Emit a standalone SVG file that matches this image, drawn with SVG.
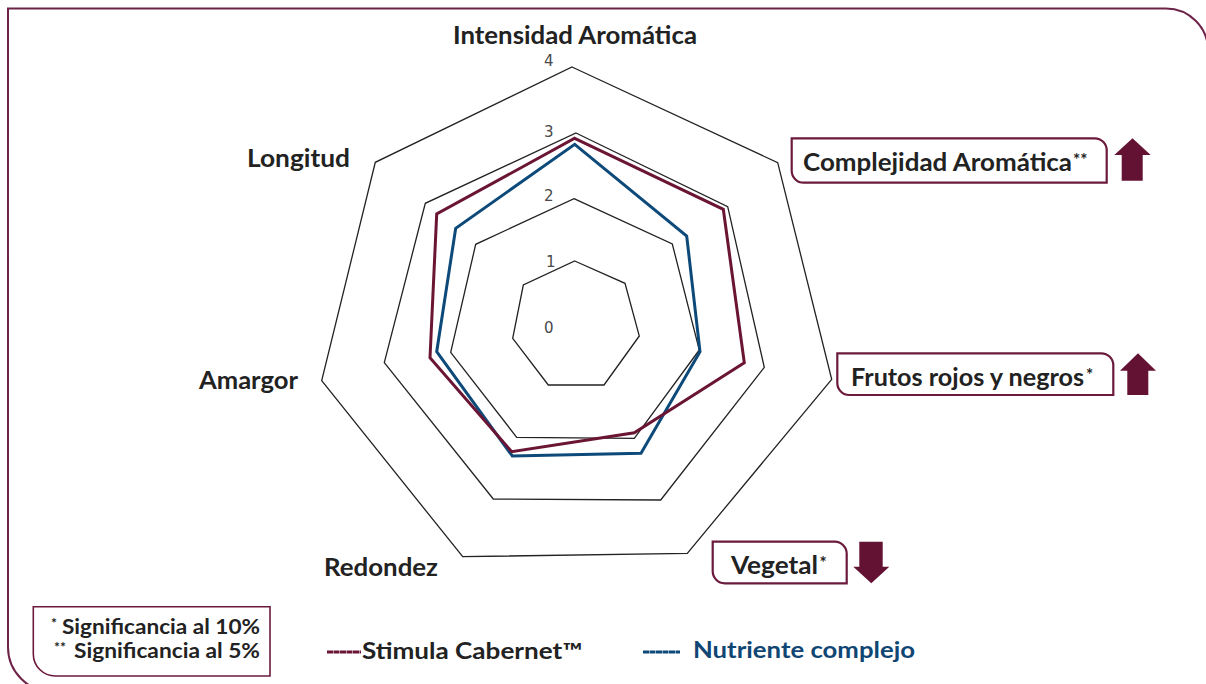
<svg xmlns="http://www.w3.org/2000/svg" width="1206" height="684" viewBox="0 0 1206 684">
<style>
.ring{fill:none;stroke:#222;stroke-width:1.3;stroke-linejoin:miter}
.lbl{font-family:Lato,"Open Sans",sans-serif;font-weight:700;font-size:25.5px;fill:#222}
.num{font-family:"DejaVu Sans",sans-serif;font-size:15px;fill:#4a4a4a}
.box{fill:#fff;stroke:#6b1a3c;stroke-width:2.2}
.arrow{fill:#641234}
.sup{font-family:Lato,"Open Sans",sans-serif;font-weight:700;font-size:17px;fill:#222}
.leg{font-family:Lato,"Open Sans",sans-serif;font-weight:700;font-size:21px;fill:#222}
</style>
<rect width="1206" height="684" fill="#fff"/>
<path id="frame" d="M53,692 A45,45 0 0 1 8,647 V8.5 H1166 A42,42 0 0 1 1208,50.5" fill="none" stroke="#6d2347" stroke-width="2"/>
<g id="grid">
<polygon class="ring" points="572,67 777.7,162.7 831.7,379.3 687.3,553.3 462.7,556.7 321.7,380.7 375.3,162.3"/>
<polygon class="ring" points="576,133 727.7,206.7 764.3,367.3 660.7,500 493.3,499 384.3,362.7 425.3,203.3"/>
<polygon class="ring" points="574,198.7 672.3,244 699.3,350 634.3,438.3 516.7,437.3 450.7,352.3 475.7,244.3"/>
<polygon class="ring" points="574.7,261 625,283.3 639.3,336 604,385 548.3,385 512.7,338.3 523.3,285"/>
<text class="num" x="544" y="66">4</text>
<text class="num" x="544" y="137">3</text>
<text class="num" x="544" y="201">2</text>
<text class="num" x="546" y="267">1</text>
<text class="num" x="544" y="333">0</text>
</g>
<g id="series">
<polygon id="nutriente" points="574.7,144.3 686.7,236 700,351.7 641,453.3 512.3,456 436.7,351.7 455.7,228.3" fill="none" stroke="#0d4a7a" stroke-width="3" stroke-linejoin="miter"/>
<polygon id="stimula" points="574.7,138.3 723.3,209.3 744.3,362.7 634.3,432.7 511.7,451.7 430,357.7 436.7,214" fill="none" stroke="#6b1535" stroke-width="3" stroke-linejoin="miter"/>
</g>
<g id="axis-labels">
<text class="lbl" x="453" y="44" textLength="244" lengthAdjust="spacingAndGlyphs">Intensidad Aromática</text>
<text class="lbl" x="247" y="167" textLength="103" lengthAdjust="spacingAndGlyphs">Longitud</text>
<text class="lbl" x="199" y="389" textLength="99" lengthAdjust="spacingAndGlyphs">Amargor</text>
<text class="lbl" x="324" y="576" textLength="114" lengthAdjust="spacingAndGlyphs">Redondez</text>
</g>
<g id="complejidad">
<path class="box" d="M791.7,138.3 H1094.7 A12,12 0 0 1 1106.7,150.3 V182.7 H803.7 A12,12 0 0 1 791.7,170.7 Z"/>
<text class="lbl" x="803" y="171" textLength="269" lengthAdjust="spacingAndGlyphs">Complejidad Aromática</text>
<text class="sup" x="1073" y="166">**</text>
<polygon class="arrow" points="1132.5,138.3 1150.7,155 1142.7,155 1142.7,180.7 1121.7,180.7 1121.7,155 1114.3,155"/>
</g>
<g id="frutos">
<path class="box" d="M837.3,353.3 H1101.3 A12,12 0 0 1 1113.3,365.3 V395 H849.3 A12,12 0 0 1 837.3,383 Z"/>
<text class="lbl" x="851" y="386" textLength="233" lengthAdjust="spacingAndGlyphs">Frutos rojos y negros</text>
<text class="sup" x="1086" y="381">*</text>
<polygon class="arrow" points="1138,353.3 1156,370.7 1148.3,370.7 1148.3,395 1127.3,395 1127.3,370.7 1120,370.7"/>
</g>
<g id="vegetal">
<path class="box" d="M712.7,541.7 H834.7 A12,12 0 0 1 846.7,553.7 V583.3 H724.7 A12,12 0 0 1 712.7,571.3 Z"/>
<text class="lbl" x="731" y="574" textLength="87" lengthAdjust="spacingAndGlyphs">Vegetal</text>
<text class="sup" x="819.5" y="569">*</text>
<polygon class="arrow" points="859.3,541.7 882.7,541.7 882.7,566.7 889.3,566.7 871.3,583.3 853.3,566.7 859.3,566.7"/>
</g>
<g id="significance">
<path d="M33.3,606.7 H270 V676 H55.3 A22,22 0 0 1 33.3,654 Z" fill="#fff" stroke="#6b1a3c" stroke-width="1.6"/>
<text class="sup" x="51" y="628" style="font-size:14px">*</text>
<text class="leg" x="62" y="634" textLength="198" lengthAdjust="spacingAndGlyphs">Significancia al 10%</text>
<text class="sup" x="54" y="652" style="font-size:14px">**</text>
<text class="leg" x="74" y="658" textLength="186" lengthAdjust="spacingAndGlyphs">Significancia al 5%</text>
</g>
<g id="legend">
<line x1="327" y1="652" x2="361" y2="652" stroke="#6b1535" stroke-width="3.2" stroke-dasharray="6 0.5"/>
<text class="lbl" x="362" y="659" style="font-size:22px" textLength="220" lengthAdjust="spacingAndGlyphs">Stimula Cabernet™</text>
<line x1="643" y1="652" x2="680" y2="652" stroke="#0d4a7a" stroke-width="3.2" stroke-dasharray="6 0.5"/>
<text class="lbl" x="693" y="658" style="font-size:22px;fill:#0f4673" textLength="222" lengthAdjust="spacingAndGlyphs">Nutriente complejo</text>
</g>
</svg>
